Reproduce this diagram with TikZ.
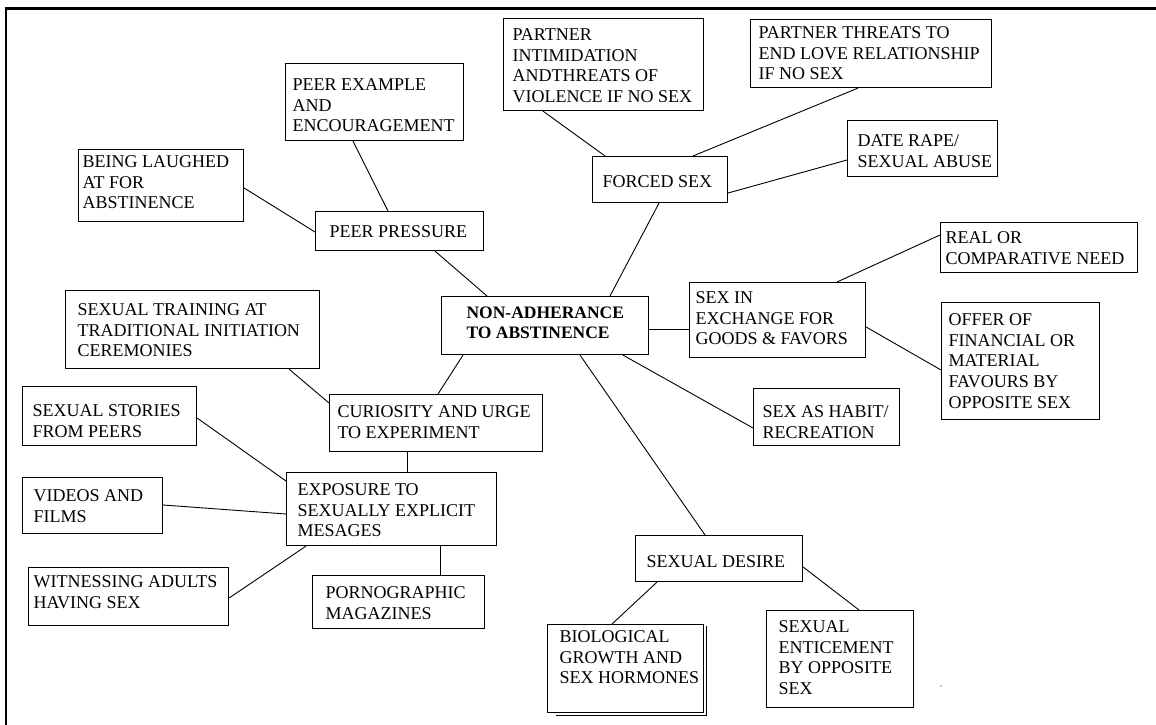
\documentclass[tikz,border=0pt]{standalone}
\usepackage{fontspec}
\setmainfont{Liberation Serif}
% text block of a box: width, height, left padding, first baseline, lines
\newcommand\boxtext[5]{\parbox[t][#2pt][t]{#1pt}{\parskip=0pt\raggedright\leftskip=#3pt\relax\rule{0pt}{#4pt}#5}}
\tikzset{
  cbox/.style={draw, line width=1.1pt, inner sep=0pt, anchor=north west,
    font=\fontsize{18}{20.7}\selectfont},
  hub/.style={cbox, font=\fontsize{17.5}{20}\selectfont\bfseries},
  link/.style={line width=0.9pt},
  frame/.style={line width=2.5pt}
}
\begin{document}
\begin{tikzpicture}[x=1pt,y=-1pt]
\useasboundingbox (0,0) rectangle (1156,725);
% page frame (top and left edges)
\draw[frame] (1156,8.7) -- (6.2,8.7) -- (6.2,725);

% central node
\node[hub] (center) at (441,296) {\boxtext{207}{58}{25}{22}{NON-ADHERANCE\\TO ABSTINENCE}};

% peer pressure branch
\node[cbox] (peerpr) at (315,211) {\boxtext{168}{39}{14}{26}{PEER PRESSURE}};
\node[cbox] (peerex) at (285,63) {\boxtext{178}{77}{7}{27}{PEER EXAMPLE\\AND\\ENCOURAGEMENT}};
\node[cbox] (laughed) at (78,149) {\boxtext{165}{72}{4}{18}{BEING LAUGHED\\AT FOR\\ABSTINENCE}};

% forced sex branch
\node[cbox] (forced) at (592,156) {\boxtext{135}{46}{10}{31}{FORCED SEX}};
\node[cbox] (intim) at (503,18) {\boxtext{200}{92}{9}{22}{PARTNER\\INTIMIDATION\\ANDTHREATS OF\\VIOLENCE IF NO SEX}};
\node[cbox] (threats) at (750,19) {\boxtext{241}{68}{8}{19}{PARTNER THREATS TO\\END LOVE RELATIONSHIP\\IF NO SEX}};
\node[cbox] (daterape) at (847,120) {\boxtext{150}{56}{10}{26}{DATE RAPE/\\SEXUAL ABUSE}};

% exchange branch
\node[cbox] (exchange) at (689,282) {\boxtext{176}{75}{6}{21}{SEX IN\\EXCHANGE FOR\\GOODS \& FAVORS}};
\node[cbox] (realneed) at (940,222) {\boxtext{197}{50}{5}{21}{REAL OR\\COMPARATIVE NEED}};
\node[cbox] (offer) at (941,302) {\boxtext{158}{117}{7}{23}{OFFER OF\\FINANCIAL OR\\MATERIAL\\FAVOURS BY\\OPPOSITE SEX}};
\node[cbox] (habit) at (753,388) {\boxtext{146}{57}{9}{29}{SEX AS HABIT/\\RECREATION}};

% curiosity branch
\node[cbox] (curiosity) at (329,394) {\boxtext{213}{57}{8}{23}{CURIOSITY AND URGE\\TO EXPERIMENT}};
\node[cbox] (training) at (65,290) {\boxtext{254}{78}{12}{25}{SEXUAL TRAINING AT\\TRADITIONAL INITIATION\\CEREMONIES}};
\node[cbox] (exposure) at (286,472) {\boxtext{210}{73}{11}{23}{EXPOSURE TO\\SEXUALLY EXPLICIT\\MESAGES}};
\node[cbox] (stories) at (22,386) {\boxtext{174}{59}{10}{30}{SEXUAL STORIES\\FROM PEERS}};
\node[cbox] (videos) at (22,477) {\boxtext{140}{56}{11}{24}{VIDEOS AND\\FILMS}};
\node[cbox] (witness) at (28,567) {\boxtext{200}{58}{5}{20}{WITNESSING ADULTS\\HAVING SEX}};
\node[cbox] (porn) at (312,575) {\boxtext{172}{53}{13}{23}{PORNOGRAPHIC\\MAGAZINES}};

% desire branch
\node[cbox] (desire) at (635,535) {\boxtext{167}{46}{11}{32}{SEXUAL DESIRE}};
\node[cbox] (bio) at (547,624) {\boxtext{156}{88}{12}{18}{BIOLOGICAL\\GROWTH AND\\SEX HORMONES}};
\node[cbox] (entice) at (766,610) {\boxtext{147}{97}{12}{22}{SEXUAL\\ENTICEMENT\\BY OPPOSITE\\SEX}};

% shadow edge of the hormones box
\draw[line width=1.1pt] ([shift={(2pt,-2pt)}]bio.north east) -- ([shift={(2pt,-2pt)}]bio.south east) -- ([shift={(9pt,-2pt)}]bio.south west);

% connectors
\draw[link] ([xshift=68pt]peerex.south west) -- ([xshift=73pt]peerpr.north west);
\draw[link] ([yshift=-39pt]laughed.north east) -- ([yshift=-21pt]peerpr.north west);
\draw[link] ([xshift=120pt]peerpr.south west) -- ([xshift=46pt]center.north west);

\draw[link] ([xshift=40pt]intim.south west) -- ([xshift=13pt]forced.north west);
\draw[link] ([xshift=108pt]threats.south west) -- ([xshift=101pt]forced.north west);
\draw[link] ([yshift=-40pt]daterape.north west) -- ([yshift=-37pt]forced.north east);
\draw[link] ([xshift=67pt]forced.south west) -- ([xshift=169pt]center.north west);

\draw[link] ([yshift=-33pt]center.north east) -- ([yshift=-47pt]exchange.north west);
\draw[link] ([xshift=148pt]exchange.north west) -- ([yshift=-13pt]realneed.north west);
\draw[link] ([yshift=-45pt]exchange.north east) -- ([yshift=-68pt]offer.north west);
\draw[link] ([xshift=182pt]center.south west) -- ([yshift=-40pt]habit.north west);

\draw[link] ([xshift=139pt]center.south west) -- ([xshift=70pt]desire.north west);
\draw[link] ([xshift=22pt]desire.south west) -- ([xshift=65pt]bio.north west);
\draw[link] ([yshift=-32pt]desire.north east) -- ([xshift=93pt]entice.north west);

\draw[link] ([xshift=22pt]center.south west) -- ([xshift=109pt]curiosity.north west);
\draw[link] ([xshift=224pt]training.south west) -- ([yshift=-9pt]curiosity.north west);
\draw[link] ([xshift=78pt]curiosity.south west) -- ([xshift=121pt]exposure.north west);
\draw[link] ([yshift=-32pt]stories.north east) -- ([yshift=-9pt]exposure.north west);
\draw[link] ([yshift=-28pt]videos.north east) -- ([yshift=-42pt]exposure.north west);
\draw[link] ([yshift=-31pt]witness.north east) -- ([xshift=20pt]exposure.south west);
\draw[link] ([xshift=154pt]exposure.south west) -- ([xshift=128pt]porn.north west);

% stray speck
\fill (941,686) circle (0.7);
\end{tikzpicture}
\end{document}
